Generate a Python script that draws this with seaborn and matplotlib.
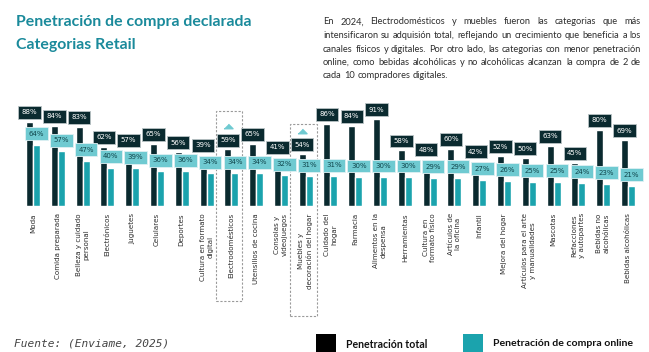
# Penetración de compra declarada por categoría retail (total vs online)

import numpy as np
import pandas as pd
import matplotlib
matplotlib.use("Agg")
import matplotlib.pyplot as plt
import matplotlib.transforms as mtransforms
from matplotlib.patches import Rectangle
import seaborn as sns

# Datos
categorias = [
    "Moda", "Comida preparada", "Belleza y cuidado\npersonal", "Electrónicos",
    "Juguetes", "Celulares", "Deportes", "Cultura en formato\ndigital",
    "Electrodomésticos", "Utensilios de cocina", "Consolas y\nvideojuegos",
    "Muebles y\ndecoración del hogar", "Cuidado del\nhogar", "Farmacia",
    "Alimentos en la\ndespensa", "Herramientas", "Cultura en\nformato físico",
    "Artículos de\nla oficina", "Infantil", "Mejora del hogar",
    "Artículos para el arte\ny manualidades", "Mascotas", "Refacciones\ny autopartes",
    "Bebidas no\nalcohólicas", "Bebidas alcohólicas",
]
pen_total = [88, 84, 83, 62, 57, 65, 56, 39, 59, 65, 41, 54, 86, 84, 91, 58, 48, 60, 42, 52, 50, 63, 45, 80, 69]
pen_online = [64, 57, 47, 40, 39, 36, 36, 34, 34, 34, 32, 31, 31, 30, 30, 30, 29, 29, 27, 26, 25, 25, 24, 23, 21]
series = ["Penetración total", "Penetración de compra online"]
destacadas = ["Electrodomésticos", "Muebles y\ndecoración del hogar"]

titulo = ["Penetración de compra declarada", "Categorias Retail"]
parrafo = [
    "En 2024, Electrodomésticos y muebles fueron las categorias que más",
    "intensificaron su adquisión total, reflejando un crecimiento que beneficia a los",
    "canales físicos y digitales. Por otro lado, las categorias con menor penetración",
    "online, como bebidas alcohólicas y no alcohólicas alcanzan la compra de 2 de",
    "cada 10 compradores digitales.",
]
fuente = "Fuente: (Enviame, 2025)"

# Colores
c_total = "#0a2a2f"
c_online = "#1ba3ad"
c_etq_online = "#6fcad1"
c_titulo = "#1a8a9b"

df = pd.DataFrame({
    "categoria": categorias * 2,
    "serie": [series[0]] * len(categorias) + [series[1]] * len(categorias),
    "valor": pen_total + pen_online,
})

sns.set_theme(style="white")
plt.rcParams["font.family"] = ["DejaVu Sans"]

W, H = 649, 352
alto_ax = 95  # px que ocupa el 100 %
fig = plt.figure(figsize=(W / 100, H / 100), dpi=100)
ax = fig.add_axes([20.6 / W, 146.5 / H, 619.7 / W, alto_ax / H])

sns.barplot(data=df, x="categoria", y="valor", hue="serie", hue_order=series,
            palette=[c_total, c_online], width=0.565, gap=0, saturation=1,
            legend=False, ax=ax)

ax.set_xlim(-0.5, len(categorias) - 0.5)
ax.set_ylim(0, 100)
ax.set_xlabel("")
ax.set_ylabel("")
ax.set_yticks([])
sns.despine(ax=ax, left=True, bottom=True)
ax.tick_params(axis="x", length=0, pad=5.5)
plt.setp(ax.get_xticklabels(), rotation=90, ha="center", va="top",
         multialignment="center", fontsize=5.1, color="#2b2b2b", linespacing=1.3)

# Etiquetas de valor (offsets en px sobre la barra)
px2pt = 72 / 100
caja = 15  # alto aprox. de la etiqueta en px
off_online = 8.0
off_total = 6.4
cont_total, cont_online = ax.containers[0], ax.containers[1]
for barra, vt, vo in zip(cont_total, pen_total, pen_online):
    xc = barra.get_x() + barra.get_width() / 2
    base_t = vt * alto_ax / 100 + off_total
    base_o = vo * alto_ax / 100 + off_online + caja + 2
    off = max(base_t, base_o) - vt * alto_ax / 100
    ax.annotate(f"{vt}%", xy=(xc, vt), xytext=(0, off * px2pt), textcoords="offset points",
                ha="center", va="bottom", fontsize=5, color="white", zorder=5,
                bbox=dict(boxstyle="square,pad=0.5", fc=c_total, ec="#b9c3c5", lw=0.6))
for barra, v in zip(cont_online, pen_online):
    xc = barra.get_x() + barra.get_width() / 2
    ax.annotate(f"{v}%", xy=(xc, v), xytext=(0, off_online * px2pt), textcoords="offset points",
                ha="center", va="bottom", fontsize=5, color="#10464c", zorder=6,
                bbox=dict(boxstyle="square,pad=0.5", fc=c_etq_online, ec="#dff1f3", lw=0.6))

# Categorías destacadas: recuadro punteado y triángulo
tri = [(-1, -0.5), (1, -0.5), (0, 0.5)]
tr_tri = mtransforms.offset_copy(ax.transData, fig=fig, y=16.8, units="points")
limites_y = {"Electrodomésticos": (-100.5, 99.5), "Muebles y\ndecoración del hogar": (-116.3, 85.8)}
for cat in destacadas:
    i = categorias.index(cat)
    barra = cont_total[i]
    xc = barra.get_x() + barra.get_width() / 2
    ax.plot([xc], [pen_total[i]], marker=tri, ms=6.5, color=c_etq_online,
            transform=tr_tri, clip_on=False, zorder=7)
    y0, y1 = limites_y[cat]
    ax.add_patch(Rectangle((i - 0.63, y0), 1.08, y1 - y0, fill=False, ec="#9a9a9a",
                           lw=0.8, ls=(0, (2, 1.5)), clip_on=False, zorder=1))

renderer = fig.canvas.get_renderer()


def ajustar(t, ancho_px):
    w = t.get_window_extent(renderer).width
    t.set_fontsize(t.get_fontsize() * ancho_px / w)


fam_txt = ["Lato", "DejaVu Sans"]

# Título
t1 = fig.text(16 / W, 1 - 22 / H, titulo[0], family=fam_txt, weight="bold",
              fontsize=10, color=c_titulo, va="center", ha="left")
ajustar(t1, 236)
fig.text(16 / W, 1 - 45 / H, titulo[1], family=fam_txt, weight="bold",
         fontsize=t1.get_fontsize(), color=c_titulo, va="center", ha="left")

# Párrafo justificado: el tamaño se ajusta a la línea más larga
x0, x1 = 323, 641
tamanos = []
for linea in parrafo[:-1]:
    prueba = fig.text(0, 0, linea, family=fam_txt, weight="normal", fontsize=6)
    w = prueba.get_window_extent(renderer).width
    tamanos.append(6 * (x1 - x0 - 2) / w)
    prueba.remove()
fs_par = min(tamanos)
esp = 0.26 * fs_par * 100 / 72
for n, linea in enumerate(parrafo):
    y = 1 - (22 + n * 13.5) / H
    palabras = linea.split(" ")
    objs = [fig.text(0, y, p, family=fam_txt, weight="normal", fontsize=fs_par,
                     color="#2e2e2e", va="center", ha="left") for p in palabras]
    anchos = [o.get_window_extent(renderer).width for o in objs]
    if n == len(parrafo) - 1:
        hueco = esp
    else:
        hueco = ((x1 - x0) - sum(anchos)) / (len(palabras) - 1)
    x = x0
    for o, a in zip(objs, anchos):
        o.set_x(x / W)
        x += a + hueco

# Fuente
tf = fig.text(14 / W, 1 - 343 / H, fuente, family=["DejaVu Sans Mono"], style="italic",
              fontsize=8, color="#444444", va="center", ha="left")
ajustar(tf, 155)

# Leyenda
for (xq, xt, ancho, color, etiqueta) in [(316, 346, 82, "black", series[0]),
                                         (463, 493, 141, c_online, series[1])]:
    fig.add_artist(Rectangle((xq / W, 0), 20 / W, 18 / H, transform=fig.transFigure,
                             fc=color, ec="none"))
    tl = fig.text(xt / W, 1 - 344 / H, etiqueta, family=fam_txt,
                  weight="bold", fontsize=7, color="#111111", va="center", ha="left")
    ajustar(tl, ancho)

fig.savefig("out.png", dpi=100)
